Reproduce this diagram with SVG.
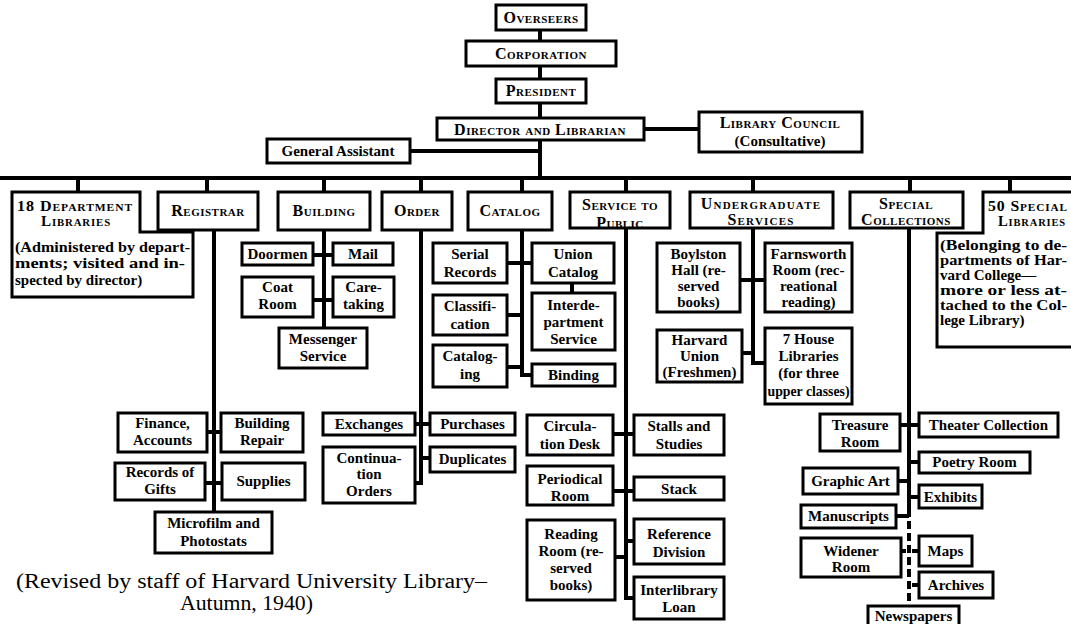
<svg xmlns="http://www.w3.org/2000/svg" width="1071" height="624" viewBox="0 0 1071 624">
<style>
.b{fill:#fff;stroke:#000;stroke-width:3}
.t{font-family:"Liberation Serif",serif;font-weight:bold;font-size:15px;text-anchor:middle;fill:#000}
.tl{font-family:"Liberation Serif",serif;font-weight:bold;font-size:15px;fill:#000}
.sc{font-variant:small-caps;font-size:16px;letter-spacing:0.5px}
.sc2{font-variant:small-caps;font-size:14px;letter-spacing:0.8px}
.c{stroke:#000;stroke-width:4;fill:none;stroke-linejoin:miter}
.d{stroke:#000;stroke-width:4;fill:none;stroke-dasharray:8 4}
.cap{font-family:"Liberation Serif",serif;font-size:20px;fill:#000}
</style>
<rect width="1071" height="624" fill="#fff"/>
<g id="connectors">
<path class="c" d="M540 30V41M540 66V79M540 103V118M540 140V178M410 151H540M644 129H699"/>
<path class="c" d="M0 178H1071" stroke-width="5"/>
<path class="c" d="M78 178V192M207 178V192M324 178V192M421 178V192M522 178V192M626 178V192M753 178V192M910 178V192M1010 178V192"/>
<path class="c" d="M214 230V512M207 432H221M205 483H222"/>
<path class="c" d="M324 230V328M313 255H333M313 300H333"/>
<path class="c" d="M421 230V483H415M415 424H430M421 458H430"/>
<path class="c" d="M522 230V375H532M507 263H532M507 315H522M507 367H522M572 283V293"/>
<path class="c" d="M626 228V598H634M613 434H634M613 491H634M626 541H634M615 557H626"/>
<path class="c" d="M753 228V363H765M740 280H765M742 353H753"/>
<path class="c" d="M909 228V517M900 425H919M909 462H919M898 481H909M909 497H919M896 516H909"/>
<path class="d" d="M909 521V606"/>
<path class="c" d="M901 551H906M912 551H919M912 585H919"/>
</g>
<g id="overseers"><rect class="b" x="496" y="5" width="90" height="25"/><text class="t sc" x="541" y="23">Overseers</text></g>
<g id="corporation"><rect class="b" x="466" y="41" width="150" height="25"/><text class="t sc" x="541" y="59">Corporation</text></g>
<g id="president"><rect class="b" x="496" y="79" width="90" height="24"/><text class="t sc" x="541" y="96">President</text></g>
<g id="director"><rect class="b" x="437" y="118" width="207" height="22"/><text class="t sc" x="540" y="135">Director and Librarian</text></g>
<g id="council"><rect class="b" x="699" y="112" width="163" height="40"/><text class="t sc" x="780" y="128">Library Council</text><text class="t" x="780" y="146">(Consultative)</text></g>
<g id="general-assistant"><rect class="b" x="267" y="139" width="143" height="24"/><text class="t" x="338" y="156">General Assistant</text></g>

<g id="dept-libraries"><path class="b" d="M12 192H140V232H193V297H12Z"/>
<text class="tl sc2" x="17" y="211" textLength="116" lengthAdjust="spacingAndGlyphs">18 Department</text><text class="tl sc2" x="41" y="226" textLength="70" lengthAdjust="spacingAndGlyphs">Libraries</text>
<text class="tl" x="15" y="252" textLength="175" lengthAdjust="spacingAndGlyphs">(Administered by depart-</text>
<text class="tl" x="15" y="268" textLength="170" lengthAdjust="spacingAndGlyphs">ments; visited and in-</text>
<text class="tl" x="15" y="285">spected by director)</text></g>
<g id="registrar"><rect class="b" x="158" y="192" width="100" height="38"/><text class="t sc" x="208" y="216">Registrar</text></g>
<g id="building"><rect class="b" x="278" y="192" width="92" height="38"/><text class="t sc" x="324" y="216">Building</text></g>
<g id="order"><rect class="b" x="382" y="192" width="70" height="38"/><text class="t sc" x="417" y="216">Order</text></g>
<g id="catalog"><rect class="b" x="468" y="192" width="84" height="38"/><text class="t sc" x="510" y="216">Catalog</text></g>
<g id="service"><rect class="b" x="570" y="192" width="100" height="36"/><text class="t sc" x="620" y="210">Service to</text><text class="t sc" x="620" y="228">Public</text></g>
<g id="undergrad"><rect class="b" x="690" y="192" width="143" height="36"/><text class="t sc" x="761" y="209" style="letter-spacing:1.2px">Undergraduate</text><text class="t sc" x="761" y="225" style="letter-spacing:1.2px">Services</text></g>
<g id="special-collections"><rect class="b" x="850" y="192" width="113" height="36"/><text class="t sc" x="906" y="209">Special</text><text class="t sc" x="906" y="225">Collections</text></g>
<g id="special-libraries"><path class="b" d="M983 192H1075V347H937V233H983Z"/>
<text class="tl sc2" x="988" y="211" textLength="80" lengthAdjust="spacingAndGlyphs">50 Special</text><text class="tl sc2" x="998" y="226" textLength="68" lengthAdjust="spacingAndGlyphs">Libraries</text>
<text class="tl" x="940" y="250" textLength="127" lengthAdjust="spacingAndGlyphs">(Belonging to de-</text>
<text class="tl" x="940" y="265" textLength="127" lengthAdjust="spacingAndGlyphs">partments of Har-</text>
<text class="tl" x="940" y="280">vard College—</text>
<text class="tl" x="940" y="295" textLength="127" lengthAdjust="spacingAndGlyphs">more or less at-</text>
<text class="tl" x="940" y="310" textLength="127" lengthAdjust="spacingAndGlyphs">tached to the Col-</text>
<text class="tl" x="940" y="325">lege Library)</text></g>

<g id="doormen"><rect class="b" x="242" y="243" width="71" height="22"/><text class="t" x="277.5" y="259">Doormen</text></g>
<g id="mail"><rect class="b" x="333" y="243" width="60" height="22"/><text class="t" x="363" y="259">Mail</text></g>
<g id="coat-room"><rect class="b" x="242" y="277" width="71" height="40"/><text class="t" x="277.5" y="292">Coat</text><text class="t" x="277.5" y="309">Room</text></g>
<g id="caretaking"><rect class="b" x="333" y="277" width="61" height="40"/><text class="t" x="363.5" y="292">Care-</text><text class="t" x="363.5" y="309">taking</text></g>
<g id="messenger"><rect class="b" x="279" y="328" width="88" height="40"/><text class="t" x="323" y="344">Messenger</text><text class="t" x="323" y="361">Service</text></g>

<g id="serial-records"><rect class="b" x="433" y="243" width="74" height="40"/><text class="t" x="470" y="259">Serial</text><text class="t" x="470" y="277">Records</text></g>
<g id="union-catalog"><rect class="b" x="532" y="243" width="82" height="40"/><text class="t" x="573" y="259">Union</text><text class="t" x="573" y="277">Catalog</text></g>
<g id="classification"><rect class="b" x="433" y="295" width="74" height="40"/><text class="t" x="470" y="311">Classifi-</text><text class="t" x="470" y="329">cation</text></g>
<g id="interdepartment"><rect class="b" x="532" y="293" width="83" height="57"/><text class="t" x="573.5" y="310">Interde-</text><text class="t" x="573.5" y="327">partment</text><text class="t" x="573.5" y="344">Service</text></g>
<g id="cataloging"><rect class="b" x="433" y="345" width="74" height="42"/><text class="t" x="470" y="361">Catalog-</text><text class="t" x="470" y="379">ing</text></g>
<g id="binding"><rect class="b" x="532" y="364" width="83" height="22"/><text class="t" x="573.5" y="380">Binding</text></g>

<g id="boylston"><rect class="b" x="657" y="243" width="83" height="69"/><text class="t" x="698.5" y="259">Boylston</text><text class="t" x="698.5" y="275">Hall (re-</text><text class="t" x="698.5" y="291">served</text><text class="t" x="698.5" y="307">books)</text></g>
<g id="farnsworth"><rect class="b" x="765" y="243" width="87" height="69"/><text class="t" x="808.5" y="259">Farnsworth</text><text class="t" x="808.5" y="275">Room (rec-</text><text class="t" x="808.5" y="291">reational</text><text class="t" x="808.5" y="307">reading)</text></g>
<g id="harvard-union"><rect class="b" x="657" y="330" width="85" height="52"/><text class="t" x="699.5" y="345">Harvard</text><text class="t" x="699.5" y="361">Union</text><text class="t" x="699.5" y="377">(Freshmen)</text></g>
<g id="house-libraries"><rect class="b" x="765" y="328" width="87" height="76"/><text class="t" x="808.5" y="344">7 House</text><text class="t" x="808.5" y="361">Libraries</text><text class="t" x="808.5" y="378">(for three</text><text class="t" x="808.5" y="396" textLength="82" lengthAdjust="spacingAndGlyphs">upper classes)</text></g>

<g id="finance"><rect class="b" x="118" y="413" width="89" height="39"/><text class="t" x="162.5" y="428">Finance,</text><text class="t" x="162.5" y="445">Accounts</text></g>
<g id="building-repair"><rect class="b" x="221" y="413" width="82" height="39"/><text class="t" x="262" y="428">Building</text><text class="t" x="262" y="445">Repair</text></g>
<g id="records-gifts"><rect class="b" x="115" y="463" width="90" height="37"/><text class="t" x="160" y="477">Records of</text><text class="t" x="160" y="494">Gifts</text></g>
<g id="supplies"><rect class="b" x="222" y="463" width="83" height="37"/><text class="t" x="263.5" y="486">Supplies</text></g>
<g id="microfilm"><rect class="b" x="155" y="512" width="117" height="41"/><text class="t" x="213.5" y="528">Microfilm and</text><text class="t" x="213.5" y="546">Photostats</text></g>

<g id="exchanges"><rect class="b" x="323" y="413" width="92" height="22"/><text class="t" x="369" y="429">Exchanges</text></g>
<g id="purchases"><rect class="b" x="430" y="413" width="85" height="22"/><text class="t" x="472.5" y="429">Purchases</text></g>
<g id="continuation"><rect class="b" x="323" y="447" width="92" height="56"/><text class="t" x="369" y="463">Continua-</text><text class="t" x="369" y="479">tion</text><text class="t" x="369" y="496">Orders</text></g>
<g id="duplicates"><rect class="b" x="430" y="447" width="85" height="25"/><text class="t" x="472.5" y="464">Duplicates</text></g>

<g id="circulation"><rect class="b" x="527" y="415" width="86" height="40"/><text class="t" x="570" y="431">Circula-</text><text class="t" x="570" y="449">tion Desk</text></g>
<g id="stalls"><rect class="b" x="634" y="415" width="90" height="40"/><text class="t" x="679" y="431">Stalls and</text><text class="t" x="679" y="449">Studies</text></g>
<g id="periodical"><rect class="b" x="527" y="466" width="86" height="39"/><text class="t" x="570" y="484">Periodical</text><text class="t" x="570" y="501">Room</text></g>
<g id="stack"><rect class="b" x="634" y="477" width="90" height="23"/><text class="t" x="679" y="494">Stack</text></g>
<g id="reading-room"><rect class="b" x="527" y="520" width="88" height="80"/><text class="t" x="571" y="539">Reading</text><text class="t" x="571" y="556">Room (re-</text><text class="t" x="571" y="573">served</text><text class="t" x="571" y="590">books)</text></g>
<g id="reference"><rect class="b" x="634" y="519" width="90" height="45"/><text class="t" x="679" y="539">Reference</text><text class="t" x="679" y="557">Division</text></g>
<g id="interlibrary"><rect class="b" x="634" y="577" width="90" height="42"/><text class="t" x="679" y="595">Interlibrary</text><text class="t" x="679" y="612">Loan</text></g>

<g id="treasure"><rect class="b" x="820" y="414" width="80" height="37"/><text class="t" x="860" y="430">Treasure</text><text class="t" x="860" y="447">Room</text></g>
<g id="theater"><rect class="b" x="919" y="413" width="139" height="24"/><text class="t" x="988.5" y="430">Theater Collection</text></g>
<g id="poetry"><rect class="b" x="919" y="452" width="111" height="21"/><text class="t" x="974.5" y="467">Poetry Room</text></g>
<g id="graphic-art"><rect class="b" x="803" y="468" width="95" height="26"/><text class="t" x="850.5" y="486">Graphic Art</text></g>
<g id="exhibits"><rect class="b" x="919" y="485" width="63" height="23"/><text class="t" x="950.5" y="502">Exhibits</text></g>
<g id="manuscripts"><rect class="b" x="801" y="505" width="95" height="23"/><text class="t" x="848.5" y="521">Manuscripts</text></g>
<g id="widener"><rect class="b" x="801" y="538" width="100" height="39"/><text class="t" x="851" y="556">Widener</text><text class="t" x="851" y="572">Room</text></g>
<g id="maps"><rect class="b" x="919" y="536" width="53" height="30"/><text class="t" x="945.5" y="556">Maps</text></g>
<g id="archives"><rect class="b" x="919" y="572" width="74" height="26"/><text class="t" x="956" y="590">Archives</text></g>
<g id="newspapers"><rect class="b" x="868" y="606" width="91" height="22"/><text class="t" x="913.5" y="621">Newspapers</text></g>

<g id="caption">
<text class="cap" x="16" y="588" textLength="471" lengthAdjust="spacingAndGlyphs">(Revised by staff of Harvard University Library–</text>
<text class="cap" x="180" y="610" textLength="133" lengthAdjust="spacingAndGlyphs">Autumn, 1940)</text>
</g>
</svg>
